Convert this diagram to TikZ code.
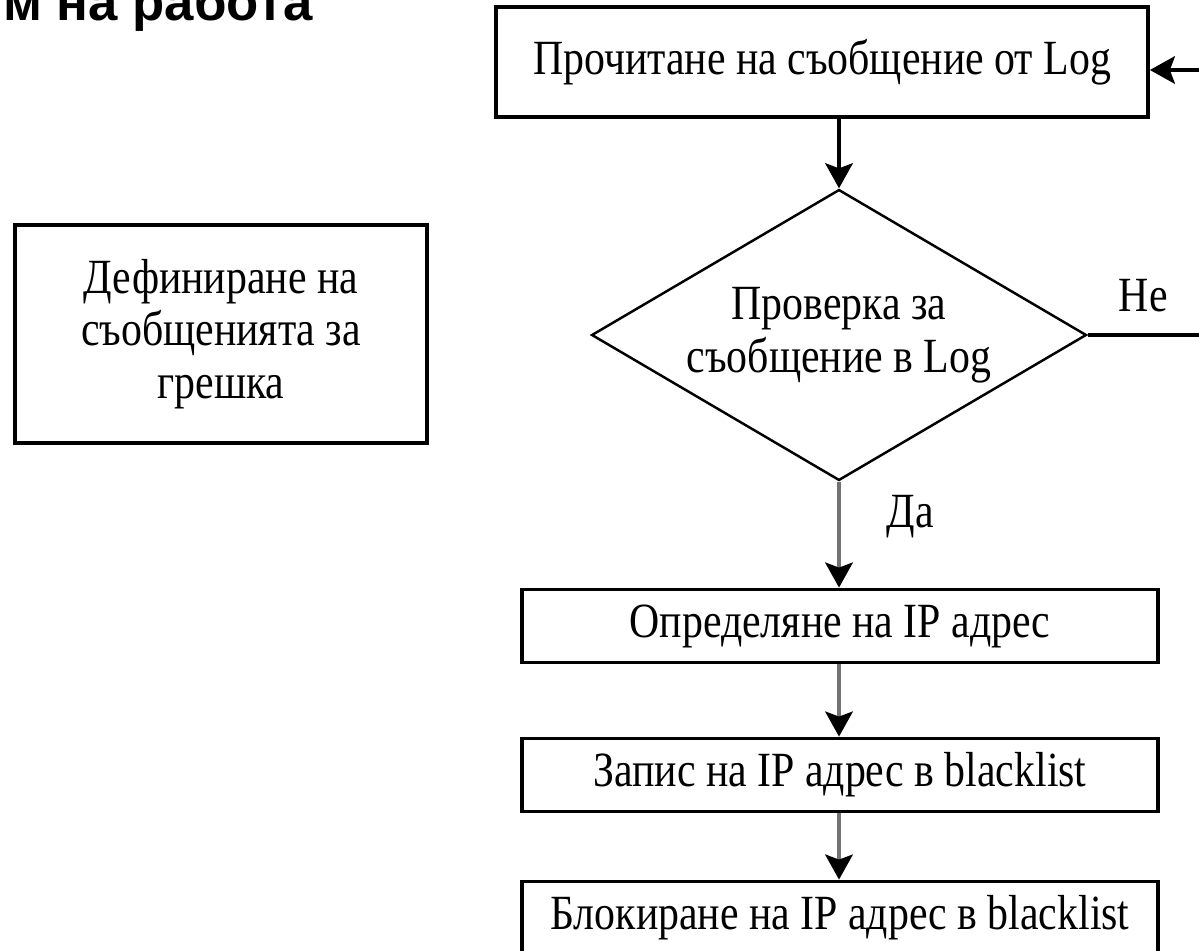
\documentclass[tikz,border=0pt]{standalone}
\usepackage{fontspec}
\setmainfont{Liberation Serif}
\newfontfamily\boxfont[FakeStretch=0.85]{Liberation Serif}
\newfontfamily\titlefont{Liberation Sans}
\usetikzlibrary{shapes.geometric,arrows.meta}

\begin{document}
\begin{tikzpicture}[x=0.02cm, y=-0.02cm,
    box/.style={draw, line width=2.2pt, align=center, inner sep=0pt,
        font=\boxfont\fontsize{28}{30}\selectfont},
    flow/.style={line width=2.2pt, -{Stealth[length=0.5cm, width=0.55cm, inset=0.1cm]}},
    grayflow/.style={line width=2.2pt, draw=black!55,
        -{Stealth[length=0.5cm, width=0.55cm, inset=0.1cm, color=black]}},
    lbl/.style={font=\boxfont\fontsize{28}{30}\selectfont}]
    \useasboundingbox (0,0) rectangle (1199,950);
    \node[anchor=base west, inner sep=0pt, font=\titlefont\bfseries\fontsize{30}{36}\selectfont] (title) at (3,20) {м на работа};
    \node[box, minimum width=13.04cm, minimum height=2.2cm] (read) at (822,62) {Прочитане на съобщение от Log};
    \node[box, diamond, aspect=1.7, line width=1.4pt, minimum width=9.9cm, minimum height=5.82cm] (check) at (839,335) {Проверка за\\съобщение в Log};
    \node[box, minimum width=8.24cm, minimum height=4.36cm] (define) at (221,334) {Дефиниране на\\съобщенията за\\грешка};
    \node[box, minimum width=12.72cm, minimum height=1.46cm] (ip) at (840,626) {Определяне на IP адрес};
    \node[box, minimum width=12.72cm, minimum height=1.46cm] (save) at (840,775) {Запис на IP адрес в blacklist};
    \node[box, minimum width=12.72cm, minimum height=1.46cm] (block) at (840,918) {Блокиране на IP адрес в blacklist};
    \coordinate (loopin) at (1199,70);
    \coordinate (noout) at (1199,335);
    % main flow
    \draw[flow] (read.south -| check.north) -- (check.north);
    \draw[flow] (loopin) -- (loopin -| read.east);
    \draw[line width=2.2pt] (check.east) -- (noout) node[lbl, midway, above=0.3cm] {Не};
    \draw[grayflow] (check.south) -- (check.south |- ip.north) node[lbl, pos=0.33, right=0.8cm] {Да};
    \draw[grayflow] (ip.south -| check.south) -- (save.north -| check.south);
    \draw[grayflow] (save.south -| check.south) -- (block.north -| check.south);
\end{tikzpicture}
\end{document}
